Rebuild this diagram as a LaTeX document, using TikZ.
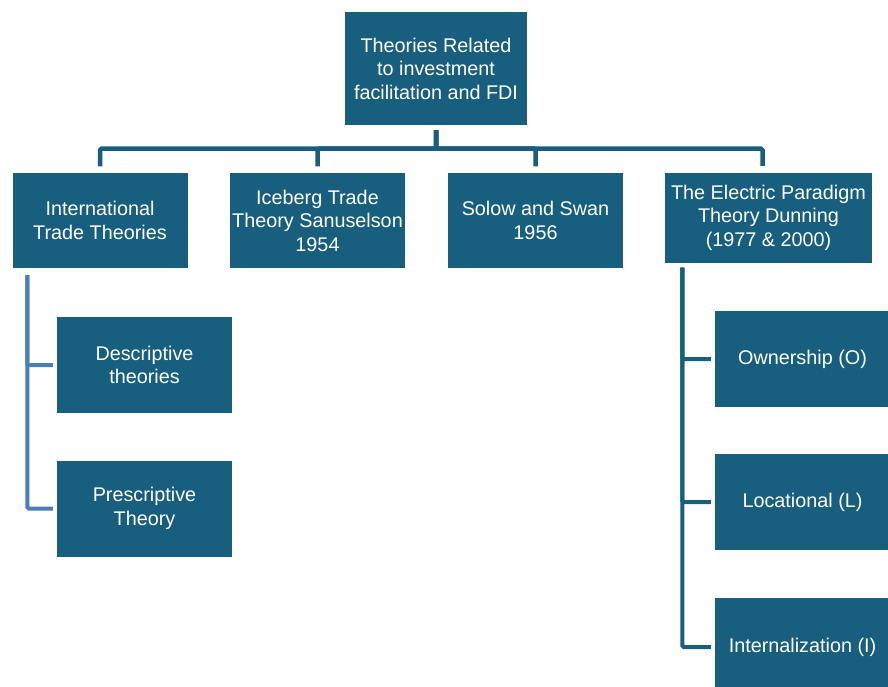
\documentclass[tikz,border=0pt]{standalone}
\usepackage{fontspec}
\setmainfont{Liberation Sans}
\usetikzlibrary{positioning}
\definecolor{boxblue}{HTML}{175E7F}
\definecolor{linkblue}{HTML}{4A7EBB}

\begin{document}
\begin{tikzpicture}[x=1pt, y=-1pt,
    box/.style={rectangle, fill=boxblue, text=white, inner sep=0pt, minimum width=175pt, minimum height=95pt, align=center, font=\fontsize{19.8}{23.5}\selectfont},
    link/.style={draw=boxblue, line width=4.5pt, rounded corners=1.5pt, shorten <=5pt, shorten >=6.5pt},
    sublink/.style={line width=4pt, rounded corners=1.5pt, shorten >=4pt}
]
\path[use as bounding box, clip] (0,0) rectangle (888,686);

\node[box, minimum width=182pt, minimum height=113pt] (root) at (436,68.5) {Theories Related\\to investment\\facilitation and FDI};

\node[box] (intl) at (100,220.5) {International\\Trade Theories};
\node[box] (iceberg) at (317.5,220.5) {Iceberg Trade\\Theory Sanuselson\\1954};
\node[box] (solow) at (535.5,220.5) {Solow and Swan\\1956};
\node[box, minimum width=207pt, minimum height=90pt] (eclectic) at (768.5,217.5) {The Electric Paradigm\\Theory Dunning\\(1977 \& 2000)};

\node[box, minimum height=96pt] (desc) at (144.5,365) {Descriptive\\theories};
\node[box, minimum height=96pt] (presc) at (144.5,508.5) {Prescriptive\\Theory};

\node[box, minimum height=96pt] (own) at (802.5,359) {Ownership (O)};
\node[box, minimum height=96pt] (loc) at (802.5,502) {Locational (L)};
\node[box, minimum height=98pt] (intern) at (802.5,647) {Internalization (I)};

% top level
\draw[link] (root.south) -- ++(0,23.5) -| (intl.north);
\draw[link] (root.south) -- ++(0,23.5) -| (iceberg.north);
\draw[link] (root.south) -- ++(0,23.5) -| (solow.north);
\draw[link] (root.south) -- ++(0,23.5) -| ([xshift=-6pt]eclectic.north);

% trade theories
\draw[sublink, draw=linkblue] (intl.south west) ++(15,7) |- (desc.west);
\draw[sublink, draw=linkblue] (intl.south west) ++(15,7) |- (presc.west);

% OLI
\draw[sublink, draw=boxblue] (eclectic.south west) ++(17.5,5) |- (own.west);
\draw[sublink, draw=boxblue] (eclectic.south west) ++(17.5,5) |- (loc.west);
\draw[sublink, draw=boxblue] (eclectic.south west) ++(17.5,5) |- (intern.west);
\end{tikzpicture}
\end{document}
